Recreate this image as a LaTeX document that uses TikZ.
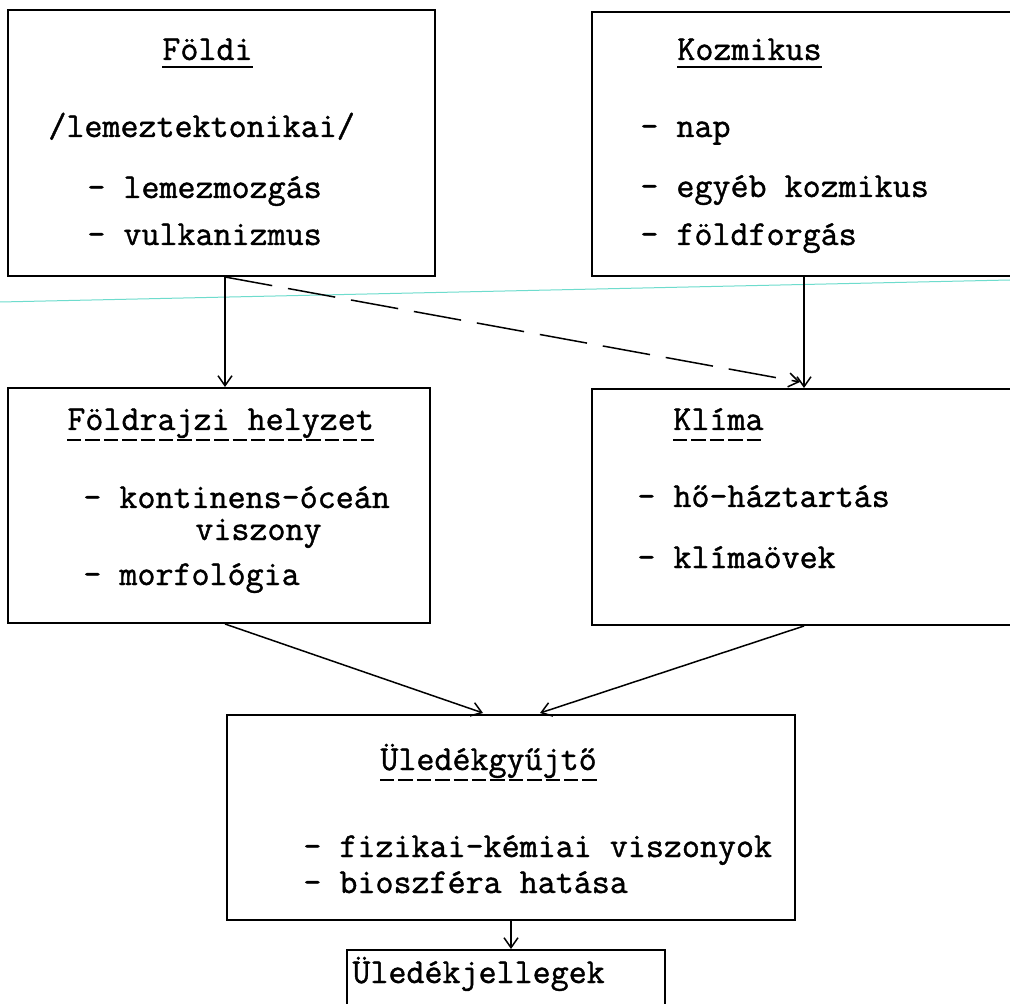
\documentclass[tikz,border=0pt]{standalone}
\usepackage{fontspec}
\newfontfamily\twfont{Latin Modern Mono}[FakeBold=1.2]
\usetikzlibrary{arrows.meta,calc}
\tikzset{
  box/.style={draw, line width=1pt, inner sep=0pt},
  txt/.style={anchor=base west, inner sep=0pt, font=\twfont\fontsize{17.5}{21}\selectfont},
  arr/.style={line width=0.75pt, -{Straight Barb[length=5pt,width=7pt]}},
  solidul/.style={line width=1pt},
  dashul/.style={line width=1pt, dash pattern=on 7.2pt off 2pt},
}
\begin{document}
\begin{tikzpicture}[x=0.5pt,y=-0.5pt]
\useasboundingbox (0,0) rectangle (1010,1004);
\clip (0,0) rectangle (1010,1004);
\fill[white] (0,0) rectangle (1010,1004);
% scan line artifact
\draw[line width=0.5pt, color={rgb,255:red,110;green,220;blue,205}] (0,302) -- (1010,280);

% boxes
\node[box, minimum width=213.5pt, minimum height=133pt] (foldi) at (221.5,143) {};
\node[box, minimum width=212pt, minimum height=132pt] (kozm) at (804,144) {};
\node[box, minimum width=211pt, minimum height=117.5pt] (fold) at (219,505.5) {};
\node[box, minimum width=212pt, minimum height=118pt] (klima) at (804,507) {};
\node[box, minimum width=284pt, minimum height=102.5pt] (ul) at (511,817.5) {};
\node[box, minimum width=159pt, minimum height=40pt] (jel) at (506,990) {};

% Földi
\node[txt] (t1) at (162,60) {Földi};
\draw[solidul] ([yshift=-3.5pt]t1.base west) -- ([yshift=-3.5pt]t1.base east);
\node[txt] (f1) at (48,137) {/lemeztektonikai/};
\node[txt] (f2) at (87,198) {- lemezmozgás};
\node[txt] (f3) at (87,245) {- vulkanizmus};

% Kozmikus
\node[txt] (t2) at (677,60) {Kozmikus};
\draw[solidul] ([yshift=-3.5pt]t2.base west) -- ([yshift=-3.5pt]t2.base east);
\node[txt] (k1) at (640,137) {- nap};
\node[txt] (k2) at (640,197) {- egyéb kozmikus};
\node[txt] (k3) at (640,245) {- földforgás};

% Földrajzi helyzet
\node[txt] (t3) at (67,430) {Földrajzi helyzet};
\draw[dashul] ([yshift=-5pt]t3.base west) -- ([yshift=-5pt]t3.base east);
\node[txt] (g1) at (83,508) {- kontinens-óceán};
\node[txt] (g2) at (195,540) {viszony};
\node[txt] (g3) at (83,585) {- morfológia};

% Klíma
\node[txt] (t4) at (673,430) {Klíma};
\draw[dashul] ([yshift=-5pt]t4.base west) -- ([yshift=-5pt]t4.base east);
\node[txt] (c1) at (637,507) {- hő-háztartás};
\node[txt] (c2) at (637,568) {- klímaövek};

% Üledékgyűjtő
\node[txt] (t5) at (380,770) {Üledékgyűjtő};
\draw[dashul] ([yshift=-5pt]t5.base west) -- ([yshift=-5pt]t5.base east);
\node[txt] (u1) at (303,857) {- fizikai-kémiai viszonyok};
\node[txt] (u2) at (303,893) {- bioszféra hatása};

% Üledékjellegek
\node[txt] (t6) at (352,983) {Üledékjellegek};

% connectors
\coordinate (fs) at ($(foldi.south)+(3.5,0)$);
\draw[arr] (fs) -- (fs |- fold.north);
\draw[arr] (kozm.south) -- (klima.north);
\draw[arr, dash pattern=on 24pt off 8pt] (fs) -- ($(klima.north)+(-4,-6)$);
\coordinate (ula) at ($(ul.north)+(-28,-1)$);
\coordinate (ulb) at ($(ul.north)+(29,-1)$);
\draw[arr] ($(fold.south)+(6,0)$) -- (ula);
\draw[arr] (klima.south) -- (ulb);
\draw[arr] (ul.south) -- (ul.south |- jel.north);
\end{tikzpicture}
\end{document}
